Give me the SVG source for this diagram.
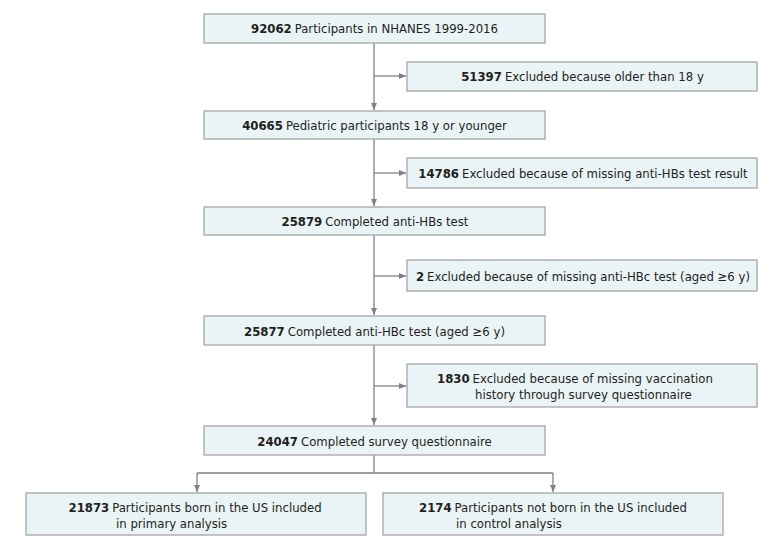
<svg xmlns="http://www.w3.org/2000/svg" width="783" height="548" viewBox="0 0 783 548">
<style>
.box{fill:#eaf3f5;stroke:#a3a7a9;stroke-width:1.3}
text{font-family:"DejaVu Sans Condensed","Liberation Sans",sans-serif;font-size:13px;fill:#231f20}
.b{font-weight:bold}
.c{text-anchor:middle}
.ln{fill:none;stroke:#7f8284;stroke-width:1.3}
</style>
<defs>
<marker id="ah" markerWidth="8" markerHeight="8" refX="7" refY="4" orient="auto" markerUnits="userSpaceOnUse">
<path d="M0,1 L7,4 L0,7 Z" fill="#7f8284"/>
</marker>
</defs>
<rect width="783" height="548" fill="#fff"/>
<g id="connectors">
<path class="ln" d="M374,43 V110" marker-end="url(#ah)"/>
<path class="ln" d="M374,76 H406" marker-end="url(#ah)"/>
<path class="ln" d="M374,139 V206" marker-end="url(#ah)"/>
<path class="ln" d="M374,173 H406" marker-end="url(#ah)"/>
<path class="ln" d="M374,235 V315" marker-end="url(#ah)"/>
<path class="ln" d="M374,276 H406" marker-end="url(#ah)"/>
<path class="ln" d="M374,345 V425" marker-end="url(#ah)"/>
<path class="ln" d="M374,386 H406" marker-end="url(#ah)"/>
<path class="ln" d="M374,455 V473 M197,473 H553"/>
<path class="ln" d="M197,473 V492" marker-end="url(#ah)"/>
<path class="ln" d="M553,473 V492" marker-end="url(#ah)"/>
</g>
<g id="n1">
<rect class="box" x="204" y="14" width="341" height="29"/>
<text class="c" x="374.5" y="33"><tspan class="b">92062</tspan><tspan dx="3">Participants in NHANES 1999-2016</tspan></text>
</g>
<g id="e1">
<rect class="box" x="407" y="62" width="350" height="29"/>
<text class="c" x="582.5" y="81"><tspan class="b">51397</tspan><tspan dx="3">Excluded because older than 18 y</tspan></text>
</g>
<g id="n2">
<rect class="box" x="204" y="111" width="341" height="28"/>
<text class="c" x="374.5" y="130"><tspan class="b">40665</tspan><tspan dx="3">Pediatric participants 18 y or younger</tspan></text>
</g>
<g id="e2">
<rect class="box" x="407" y="158" width="350" height="30"/>
<text class="c" x="583" y="178"><tspan class="b">14786</tspan><tspan dx="3">Excluded because of missing anti-HBs test result</tspan></text>
</g>
<g id="n3">
<rect class="box" x="204" y="207" width="341" height="28"/>
<text class="c" x="375" y="226"><tspan class="b">25879</tspan><tspan dx="3">Completed anti-HBs test</tspan></text>
</g>
<g id="e3">
<rect class="box" x="407" y="260" width="350" height="31"/>
<text class="c" x="583" y="280.5"><tspan class="b">2</tspan><tspan dx="3">Excluded because of missing anti-HBc test (aged ≥6 y)</tspan></text>
</g>
<g id="n4">
<rect class="box" x="204" y="316" width="341" height="29"/>
<text class="c" x="374.5" y="335.5"><tspan class="b">25877</tspan><tspan dx="3">Completed anti-HBc test (aged ≥6 y)</tspan></text>
</g>
<g id="e4">
<rect class="box" x="407" y="364" width="350" height="43"/>
<text x="437" y="382.5"><tspan class="b">1830</tspan><tspan dx="3">Excluded because of missing vaccination</tspan></text>
<text x="475" y="399">history through survey questionnaire</text>
</g>
<g id="n5">
<rect class="box" x="204" y="426" width="341" height="29"/>
<text class="c" x="374.5" y="445.5"><tspan class="b">24047</tspan><tspan dx="3">Completed survey questionnaire</tspan></text>
</g>
<g id="n6">
<rect class="box" x="26" y="493" width="340" height="42"/>
<text x="68.5" y="511.5"><tspan class="b">21873</tspan><tspan dx="3">Participants born in the US included</tspan></text>
<text x="116" y="527.5">in primary analysis</text>
</g>
<g id="n7">
<rect class="box" x="383" y="493" width="340" height="42"/>
<text x="419" y="511.5"><tspan class="b">2174</tspan><tspan dx="3">Participants not born in the US included</tspan></text>
<text x="456" y="527.5">in control analysis</text>
</g>
</svg>
